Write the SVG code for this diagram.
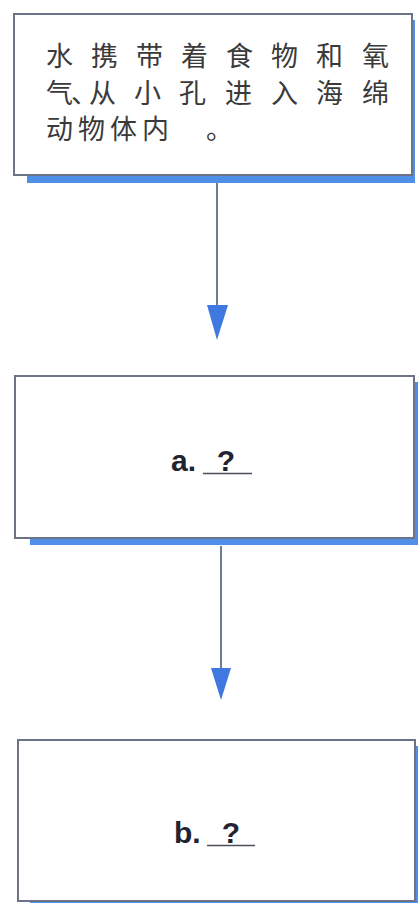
<svg xmlns="http://www.w3.org/2000/svg" width="419" height="903" viewBox="0 0 419 903">
  <style>
    .shadow { fill: #4f8fe8; }
    .box { fill: #ffffff; stroke: #6c7386; stroke-width: 2; }
    .cn { font-family: "Noto Sans CJK SC", sans-serif; font-size: 27px; fill: #3a3a3a; }
    .lbl { font-family: "Liberation Sans", Arial, sans-serif; font-size: 30px; font-weight: bold; fill: #1f2430; }
    .blank { stroke: #4a4f5a; stroke-width: 1.5; }
    .link { stroke: #6f7c98; stroke-width: 2; fill: none; }
    .head { fill: #3f78e0; }
  </style>

  <!-- connectors -->
  <g id="connectors">
    <line class="link" x1="217" y1="183" x2="217" y2="308"/>
    <polygon class="head" points="207,305 228,305 217,340"/>
    <line class="link" x1="221" y1="546" x2="221" y2="670"/>
    <polygon class="head" points="211,668 231,668 221,700"/>
  </g>

  <!-- step 1 -->
  <g id="node-intake">
    <rect class="shadow" x="27" y="20" width="388" height="163"/>
    <rect class="box" x="14" y="14" width="398" height="161"/>
    <text class="cn" y="66" x="46 91 136 181 226 271 316 362">水携带着食物和氧</text>
    <text class="cn" y="103" x="46 71 89 134 179 225 271 316 362">气、从小孔进入海绵</text>
    <text class="cn" y="139" x="46 78 110 142 206">动物体内。</text>
  </g>

  <!-- step a -->
  <g id="node-a">
    <rect class="shadow" x="30" y="382" width="388" height="163"/>
    <rect class="box" x="15" y="376" width="399" height="162"/>
    <text class="lbl" x="171" y="471">a.</text>
    <text class="lbl" x="226" y="471" text-anchor="middle">?</text>
    <line class="blank" x1="203" y1="473.5" x2="252" y2="473.5"/>
  </g>

  <!-- step b -->
  <g id="node-b">
    <rect class="shadow" x="30" y="746" width="388" height="160"/>
    <rect class="box" x="18" y="740" width="397" height="161" stroke="#6f7aa0"/>
    <text class="lbl" x="174" y="843">b.</text>
    <text class="lbl" x="231" y="843" text-anchor="middle">?</text>
    <line class="blank" x1="207" y1="845.5" x2="255" y2="845.5"/>
  </g>
</svg>
